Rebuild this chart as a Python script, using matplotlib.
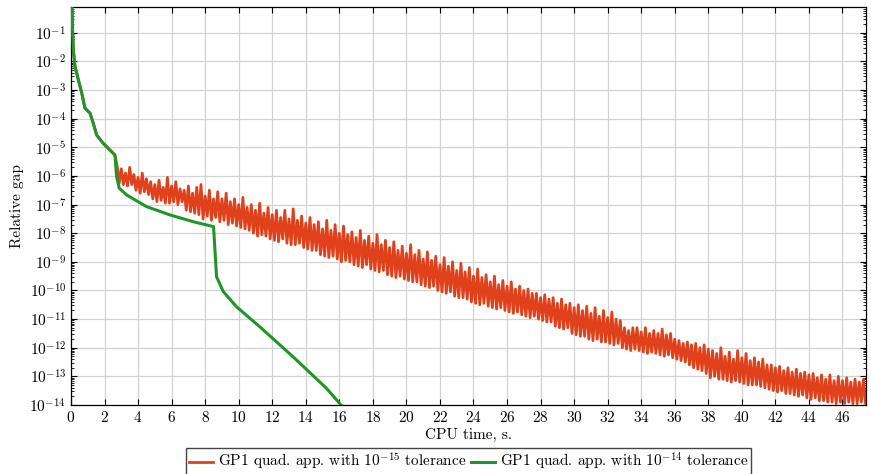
import numpy as np
import matplotlib
matplotlib.use('Agg')
import matplotlib.pyplot as plt
from matplotlib.ticker import LogLocator, NullFormatter, MultipleLocator

plt.rcParams['font.family'] = 'serif'
plt.rcParams['font.serif'] = ['cmr10']
plt.rcParams['mathtext.fontset'] = 'cm'
plt.rcParams['axes.formatter.use_mathtext'] = True

# common start of both runs (log10 of relative gap)
early_t = [0.05, 0.1, 0.14, 0.24, 0.44, 0.64, 0.83, 1.13, 1.33, 1.53, 1.92, 2.42, 2.62]
early_g = [0.0, -1.0, -1.6, -2.18, -2.64, -3.1, -3.63, -3.8, -4.16, -4.57, -4.86, -5.15, -5.27]

# GP1 with 1e-14 tolerance (green), after the common part
green_t = [2.72, 2.88, 3.31, 4.5, 5.9, 7.3, 8.5, 8.68, 9.08, 9.87, 11.26, 13.25, 15.24, 16.1, 16.3]
green_g = [-6.02, -6.43, -6.66, -7.07, -7.36, -7.6, -7.77, -9.52, -10.04, -10.57, -11.27, -12.32,
           -13.42, -14.0, -14.1]

# GP1 with 1e-15 tolerance (red), sampled every 0.125 s from 2.75 s
red_t0 = 2.75
red_dt = 0.125
red_g = [
    -5.65, -6.25, -5.75, -6.3, -5.9, -6.35, -5.7, -6.3,
    -5.95, -6.5, -6.05, -6.6, -5.9, -6.55, -6.1, -6.65,
    -6.2, -6.8, -6.3, -6.9, -6.15, -6.85, -6.4, -6.95,
    -6.05, -6.95, -6.35, -6.9, -6.2, -7.0, -6.45, -6.9,
    -6.5, -7.2, -6.35, -7.25, -6.6, -7.3, -6.4, -7.35,
    -6.3, -7.5, -6.7, -7.4, -6.5, -7.55, -6.8, -7.45,
    -6.55, -7.6, -6.8, -7.55, -6.6, -7.7, -6.9, -7.65,
    -6.8, -7.75, -7.0, -7.8, -6.75, -7.85, -7.1, -7.9,
    -7.0, -8.0, -7.2, -8.1, -6.95, -8.05, -7.3, -8.1,
    -7.1, -8.2, -7.35, -8.25, -7.2, -8.3, -7.45, -8.2,
    -7.2, -8.35, -7.5, -8.4, -7.15, -8.4, -7.55, -8.35,
    -7.4, -8.5, -7.65, -8.55, -7.45, -8.6, -7.7, -8.6,
    -7.6, -8.75, -7.85, -8.8, -7.55, -8.85, -7.9, -8.8,
    -7.7, -8.9, -8.0, -9.0, -7.75, -8.95, -8.05, -9.0,
    -7.95, -9.1, -8.15, -9.15, -7.9, -9.2, -8.25, -9.1,
    -8.1, -9.25, -8.35, -9.3, -8.05, -9.35, -8.4, -9.3,
    -8.25, -9.45, -8.5, -9.5, -8.3, -9.55, -8.6, -9.5,
    -8.45, -9.6, -8.7, -9.65, -8.4, -9.7, -8.75, -9.7,
    -8.6, -9.8, -8.9, -9.85, -8.65, -9.9, -8.95, -9.85,
    -8.8, -10.0, -9.1, -10.05, -8.85, -10.1, -9.15, -10.05,
    -9.0, -10.2, -9.3, -10.25, -9.05, -10.25, -9.35, -10.3,
    -9.2, -10.4, -9.5, -10.45, -9.25, -10.5, -9.55, -10.45,
    -9.45, -10.55, -9.7, -10.6, -9.5, -10.65, -9.8, -10.6,
    -9.65, -10.7, -9.85, -10.75, -9.7, -10.8, -9.95, -10.75,
    -9.85, -10.85, -10.0, -10.9, -9.95, -10.95, -10.1, -10.9,
    -10.1, -11.0, -10.25, -11.05, -10.15, -11.1, -10.3, -11.1,
    -10.25, -11.25, -10.45, -11.3, -10.3, -11.35, -10.5, -11.3,
    -10.45, -11.5, -10.6, -11.55, -10.5, -11.6, -10.7, -11.6,
    -10.55, -11.7, -10.8, -11.75, -10.6, -11.7, -10.9, -11.8,
    -10.7, -11.8, -10.95, -11.85, -10.75, -11.9, -11.0, -11.85,
    -11.05, -12.0, -11.3, -12.05, -11.4, -12.1, -11.3, -12.05,
    -11.3, -12.1, -11.45, -12.15, -11.3, -12.2, -11.5, -12.15,
    -11.4, -12.2, -11.5, -12.25, -11.35, -12.3, -11.55, -12.25,
    -11.5, -12.35, -11.7, -12.4, -11.75, -12.45, -11.85, -12.5,
    -11.8, -12.6, -11.9, -12.7, -11.85, -12.75, -12.0, -12.8,
    -11.9, -12.9, -12.05, -13.05, -12.1, -13.0, -12.2, -13.1,
    -12.0, -13.1, -12.3, -13.15, -12.15, -13.2, -12.4, -13.15,
    -12.1, -13.2, -12.35, -13.25, -12.2, -13.3, -12.45, -13.3,
    -12.35, -13.3, -12.5, -13.35, -12.4, -13.4, -12.6, -13.45,
    -12.6, -13.5, -12.7, -13.55, -12.65, -13.5, -12.8, -13.6,
    -12.7, -13.6, -12.85, -13.65, -12.75, -13.7, -12.9, -13.65,
    -12.85, -13.75, -12.95, -13.8, -12.9, -13.75, -13.05, -13.85,
    -12.95, -13.85, -13.1, -13.9, -12.95, -13.9, -13.15, -13.95,
    -13.0, -13.9, -13.15, -13.95, -13.05, -13.9, -13.2, -13.95,
    -13.1, -13.95, -13.2, -13.9, -13.1, -13.95, -13.3, -13.85,
]

red_x = np.concatenate([early_t, red_t0 + red_dt * np.arange(len(red_g))])
red_y = 10.0 ** np.concatenate([early_g, red_g])
green_x = np.array(early_t + green_t)
green_y = 10.0 ** np.array(early_g + green_g)

color_red = '#e0401a'
color_green = '#20962a'

fig = plt.figure(figsize=(8.71, 4.74), dpi=100)
ax = fig.add_axes([0.0815, 0.1456, 0.9127, 0.8397])

ax.plot(red_x, red_y, color=color_red, lw=2.0,
        label=r'GP1 quad. app. with $10^{-15}$ tolerance', zorder=2)
ax.plot(green_x, green_y, color=color_green, lw=2.2,
        label=r'GP1 quad. app. with $10^{-14}$ tolerance', zorder=3)

ax.set_yscale('log')
ax.set_xlim(0, 47.4)
ax.set_ylim(1e-14, 0.8)
ax.xaxis.set_major_locator(MultipleLocator(2))
ax.yaxis.set_major_locator(LogLocator(base=10, numticks=20))
ax.yaxis.set_minor_locator(LogLocator(base=10, subs=np.arange(2, 10), numticks=20))
ax.yaxis.set_minor_formatter(NullFormatter())

ax.grid(True, which='major', color='#d2d2d2', lw=0.9, zorder=0)
ax.tick_params(which='both', direction='in', top=True, right=True, labelsize=11)
ax.tick_params(which='major', length=4)
ax.tick_params(which='minor', length=2)
for s in ax.spines.values():
    s.set_linewidth(0.9)

ax.set_xlabel('CPU time, s.', fontsize=11, labelpad=2)
ax.set_ylabel('Relative gap', fontsize=11, labelpad=4)

ax.legend(loc='upper center', bbox_to_anchor=(0.5, -0.108), ncol=2, fontsize=11,
          frameon=True, fancybox=False, edgecolor='#444444', framealpha=1,
          handlelength=1.6, handletextpad=0.3, columnspacing=0.3,
          borderpad=0.2, borderaxespad=0)

fig.savefig('out.png', dpi=100)
